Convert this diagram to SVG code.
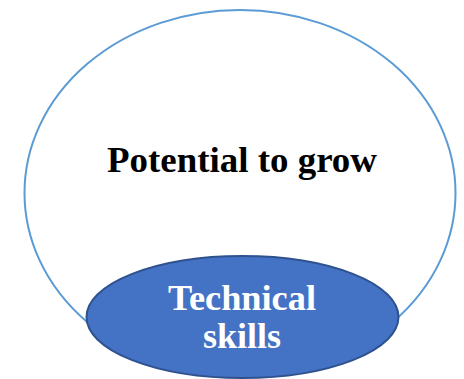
<svg xmlns="http://www.w3.org/2000/svg" width="464" height="379" viewBox="0 0 464 379">
<style>
.t{font-family:"Liberation Serif","DejaVu Serif",serif;font-weight:bold;font-size:35px;text-anchor:middle}
</style>
<rect width="464" height="379" fill="#fff"/>
<g id="outer">
<ellipse cx="240" cy="193" rx="215.5" ry="183" fill="#fff" stroke="#5B9BD5" stroke-width="2"/>
<text class="t" x="242" y="172" fill="#000" textLength="270" lengthAdjust="spacingAndGlyphs">Potential to grow</text>
</g>
<g id="inner">
<ellipse cx="242.5" cy="317" rx="156" ry="61" fill="#4472C4" stroke="#2F528F" stroke-width="2"/>
<text class="t" x="242" y="310" fill="#fff" textLength="148" lengthAdjust="spacingAndGlyphs">Technical</text>
<text class="t" x="242" y="348" fill="#fff" textLength="78" lengthAdjust="spacingAndGlyphs">skills</text>
</g>
<g id="connectors"/>
</svg>
